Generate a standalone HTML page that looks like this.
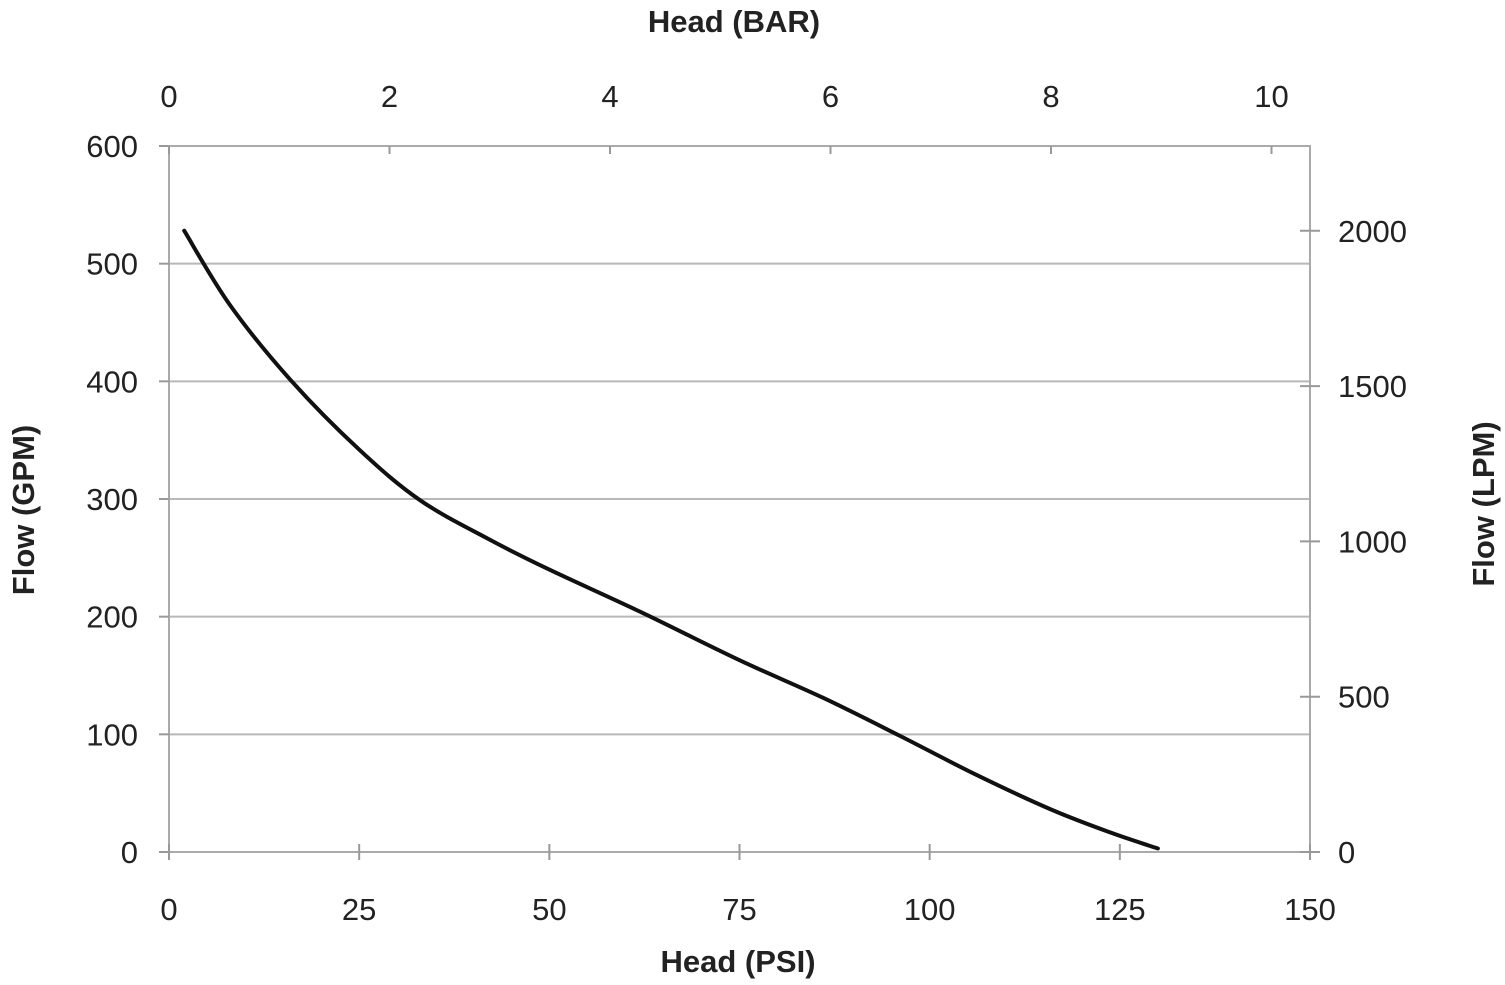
<!DOCTYPE html>
<html><head><meta charset="utf-8"><style>
html,body{margin:0;padding:0;background:#fff;}
svg{display:block;font-family:"Liberation Sans",sans-serif;}
</style></head><body>
<svg id="chart" width="1505" height="985" viewBox="0 0 1505 985"></svg>
<script>
const psiValues=[2,8,16,25,33,42,50,62,75,86,96,106,116,124,130];
const gpmValues=[528,465,401,342,299,266,240,204,163,131,99,66,36,16,3];
const psiTicks=[0,25,50,75,100,125,150];
const barTicks=[0,2,4,6,8,10];
const gpmTicks=[0,100,200,300,400,500,600];
const lpmTicks=[0,500,1000,1500,2000];

const L=169,R=1310,T=146,B=852;
const xPsi=v=>L+(v/150)*(R-L);
const xBar=v=>169+v*110.25;
const yGpm=v=>B-(v/600)*(B-T);
const yLpm=v=>B-v*0.3106;
const svg=document.getElementById('chart');
const NS='http://www.w3.org/2000/svg';
function mk(tag,attrs,parent){const e=document.createElementNS(NS,tag);for(const k in attrs)e.setAttribute(k,attrs[k]);(parent||svg).appendChild(e);return e;}
function txt(s,x,y,anchor,size,weight,rot){const t=mk('text',{x:x,y:y,'text-anchor':anchor,'font-size':size,'font-weight':weight||'normal',fill:'#222'});if(rot)t.setAttribute('transform','rotate('+rot+' '+x+' '+y+')');t.textContent=s;return t;}

// gridlines
gpmTicks.forEach(v=>{if(v===0||v===600)return;
 const g=mk('line',{x1:L,x2:R,y1:yGpm(v),y2:yGpm(v),stroke:'#b8b8b8','stroke-width':2});
 
 });
// frame
const frame=mk('rect',{x:L,y:T,width:R-L,height:B-T,fill:'none',stroke:'#aaa','stroke-width':2});


// left ticks
gpmTicks.forEach(v=>{mk('line',{x1:L-10,x2:L,y1:yGpm(v),y2:yGpm(v),stroke:'#999','stroke-width':2});
 const t=txt(String(v),138,yGpm(v)+11,'end',31);
 
 });
// right ticks
lpmTicks.forEach(v=>{mk('line',{x1:R-10,x2:R+10,y1:yLpm(v),y2:yLpm(v),stroke:'#999','stroke-width':2});
 const t=txt(String(v),1338,yLpm(v)+11,'start',31);
 
 });
// bottom ticks
psiTicks.forEach(v=>{mk('line',{x1:xPsi(v),x2:xPsi(v),y1:B-8,y2:B+8,stroke:'#999','stroke-width':2});
 const t=txt(String(v),xPsi(v),920,'middle',31);
 
 });
// top ticks
barTicks.forEach(v=>{mk('line',{x1:xBar(v),x2:xBar(v),y1:T,y2:T+8,stroke:'#999','stroke-width':2});
 const t=txt(String(v),xBar(v),107,'middle',31);
 
 });
// titles
let t;
t=txt('Head (PSI)',738,972,'middle',31,'bold');
t=txt('Head (BAR)',734,32,'middle',31,'bold');
t=txt('Flow (GPM)',34,510,'middle',31,'bold',-90);
t=txt('Flow (LPM)',1494,504,'middle',31,'bold',-90);
// curve (Catmull-Rom smoothing)
const pts=psiValues.map((p,i)=>[xPsi(p),yGpm(gpmValues[i])]);
let d='M'+pts[0][0]+','+pts[0][1];
for(let i=0;i<pts.length-1;i++){const p0=pts[i-1]||pts[i],p1=pts[i],p2=pts[i+1],p3=pts[i+2]||p2;
 d+=' C'+(p1[0]+(p2[0]-p0[0])/6)+','+(p1[1]+(p2[1]-p0[1])/6)+' '+(p2[0]-(p3[0]-p1[0])/6)+','+(p2[1]-(p3[1]-p1[1])/6)+' '+p2[0]+','+p2[1];}
const curve=mk('path',{d:d,fill:'none',stroke:'#111','stroke-width':4,'stroke-linecap':'round'});


</script>
</body></html>
